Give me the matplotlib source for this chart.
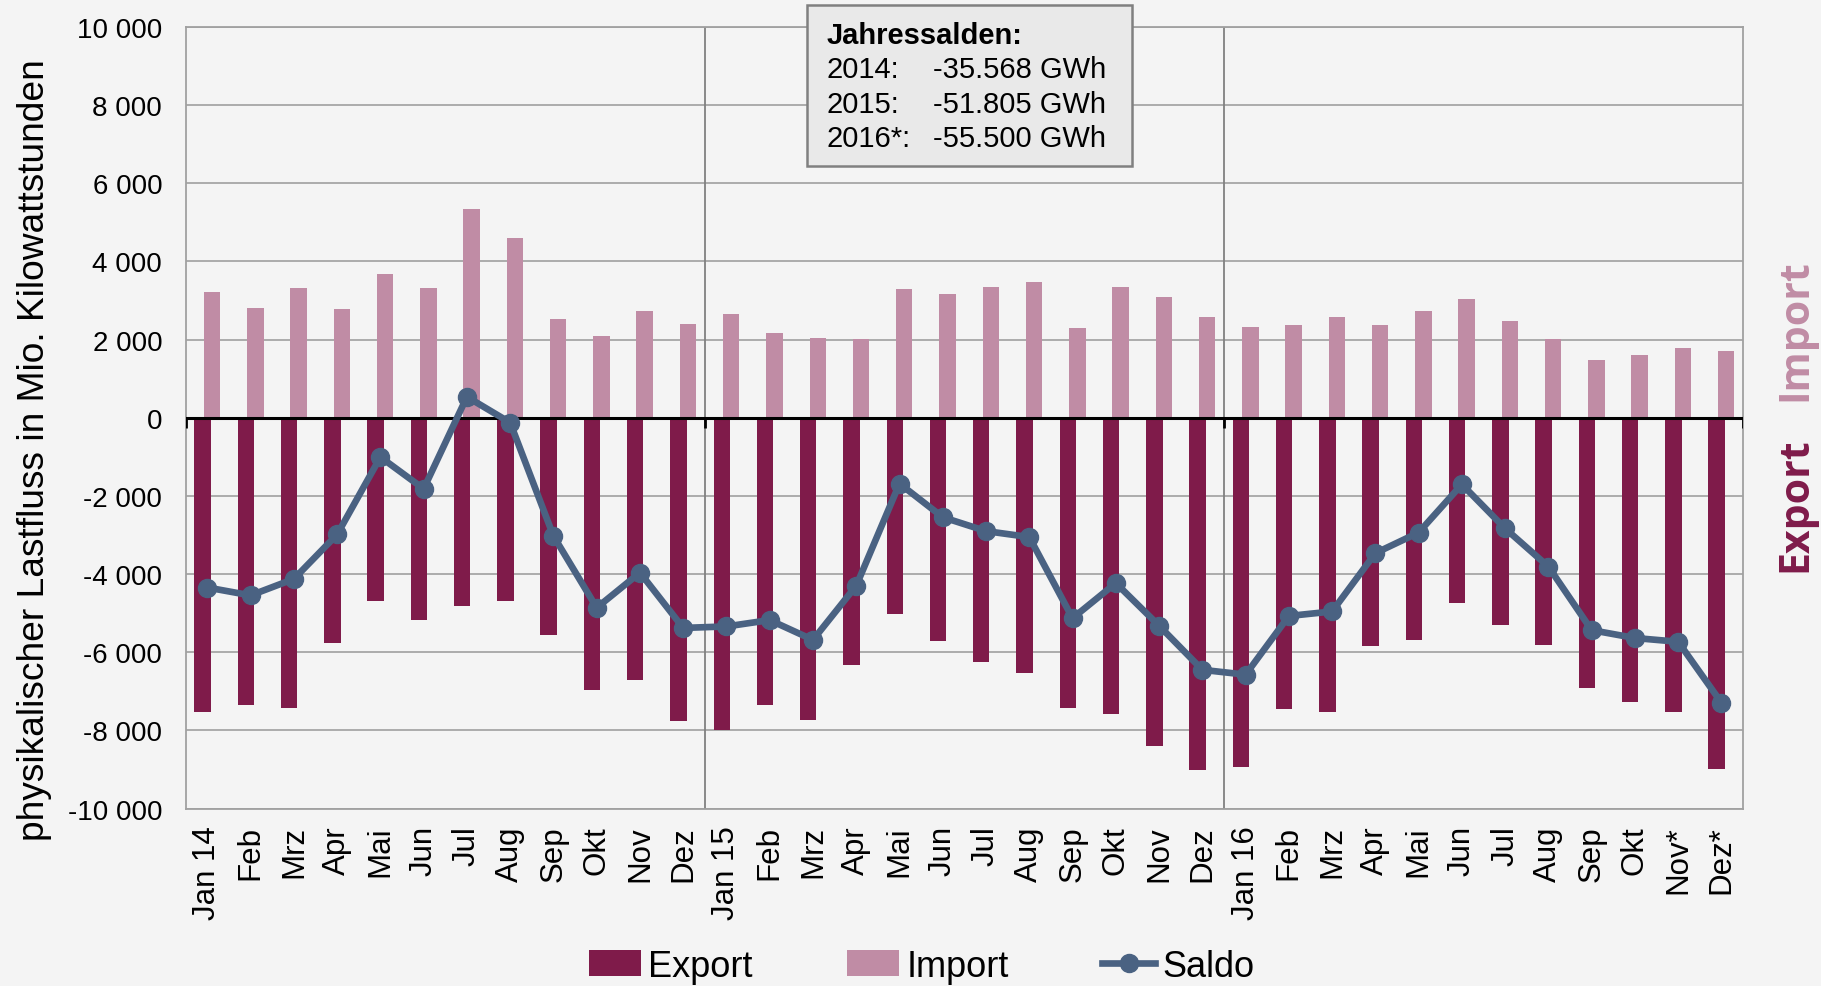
import numpy as np
import matplotlib
matplotlib.use("Agg")
import matplotlib.pyplot as plt
from matplotlib.patches import Rectangle

plt.rcParams['font.family'] = ['Liberation Sans', 'DejaVu Sans']

# Monate Jan 2014 - Dez 2016
labels = ["Jan 14", "Feb", "Mrz", "Apr", "Mai", "Jun", "Jul", "Aug", "Sep", "Okt", "Nov", "Dez",
          "Jan 15", "Feb", "Mrz", "Apr", "Mai", "Jun", "Jul", "Aug", "Sep", "Okt", "Nov", "Dez",
          "Jan 16", "Feb", "Mrz", "Apr", "Mai", "Jun", "Jul", "Aug", "Sep", "Okt", "Nov*", "Dez*"]

# Werte in Mio. kWh
importe = [3214, 2812, 3316, 2778, 3667, 3333, 5350, 4590, 2538, 2103, 2726, 2393,
           2667, 2171, 2051, 2026, 3299, 3162, 3350, 3479, 2291, 3342, 3103, 2581,
           2333, 2376, 2581, 2368, 2744, 3034, 2487, 2026, 1487, 1615, 1795, 1701]
exporte = [-7541, -7359, -7426, -5770, -4679, -5167, -4813, -4699, -5550, -6967, -6699, -7751,
           -8000, -7349, -7722, -6335, -5024, -5703, -6249, -6536, -7416, -7579, -8411, -9024,
           -8928, -7455, -7541, -5837, -5684, -4746, -5311, -5818, -6928, -7263, -7531, -8995]
saldo = [-4344, -4545, -4124, -2986, -1005, -1818, 537, -124, -3024, -4861, -3962, -5378,
         -5340, -5177, -5684, -4297, -1684, -2545, -2900, -3053, -5129, -4230, -5321, -6450,
         -6574, -5072, -4957, -3464, -2938, -1703, -2833, -3809, -5435, -5636, -5732, -7292]

jahres_label = ["2014:", "2015:", "2016*:"]
jahres_wert = ["-35.568 GWh", "-51.805 GWh", "-55.500 GWh"]

bg = '#f4f4f4'
c_export = '#7f1b4a'
c_import = '#c08ca5'
c_saldo = '#4a6282'

fig = plt.figure(figsize=(18.21, 9.87), dpi=100)
fig.patch.set_facecolor(bg)
ax = fig.add_axes([0.102, 0.1798, 0.8552, 0.7918])
ax.set_facecolor(bg)

x = np.arange(len(labels))
bw = 0.38
b_exp = ax.bar(x - 0.11, exporte, width=bw, color=c_export, zorder=3, label='Export')
b_imp = ax.bar(x + 0.11, importe, width=bw, color=c_import, zorder=3, label='Import')
l_sal, = ax.plot(x, saldo, color=c_saldo, lw=4.8, marker='o', ms=13, zorder=5, label='Saldo')

ax.set_xlim(-0.5, len(labels) - 0.5)
ax.set_ylim(-10000, 10000)
ax.set_yticks(np.arange(-10000, 10001, 2000))
ax.set_yticklabels([f"{v:,}".replace(",", " ") for v in range(-10000, 10001, 2000)], fontsize=20)
ax.set_xticks(x)
ax.set_xticklabels(labels, rotation=90, fontsize=22.5)
ax.tick_params(axis='x', length=0, pad=12)
ax.tick_params(axis='y', length=0, pad=17)
ax.grid(axis='y', color='#a6a6a6', lw=1.3, zorder=1)
for s in ax.spines.values():
    s.set_color('#a0a0a0')
    s.set_linewidth(1.3)

# Jahrestrenner
for xs in [11.5, 23.5]:
    ax.axvline(xs, color='#808080', lw=1.3, zorder=2)
ax.axhline(0, color='black', lw=2.2, zorder=4)
ax.vlines([-0.5, 11.5, 23.5, 35.5], -250, 0, color='black', lw=2, zorder=4)

ax.set_ylabel("physikalischer Lastfluss in Mio. Kilowattstunden", fontsize=26.7)
ax.yaxis.set_label_coords(-0.086, 0.46)

# Textbox Jahressalden
fig.patches.append(Rectangle((0.4432, 0.8308), 0.1785, 0.1631, transform=fig.transFigure,
                             facecolor='#e9e9e9', edgecolor='#808080', lw=1.8, zorder=10))
fig.text(0.4541, 0.9635, "Jahressalden:", fontsize=21, fontweight='bold', va='center', zorder=11)
for i, (jl, jw) in enumerate(zip(jahres_label, jahres_wert)):
    yy = 0.9291 - i * 0.0350
    fig.text(0.4541, yy, jl, fontsize=21, va='center', zorder=11)
    fig.text(0.5124, yy, jw, fontsize=21, va='center', zorder=11)

# Seitliche Beschriftung
fig.text(0.9863, 0.6657, "Import", rotation=90, color=c_import, fontsize=29.5, fontweight='bold',
         family=['Open Sans', 'DejaVu Sans'], ha='center', va='center')
fig.text(0.9863, 0.489, "Export", rotation=90, color=c_export, fontsize=29.5, fontweight='bold',
         family=['Open Sans', 'DejaVu Sans'], ha='center', va='center')

fig.legend(handles=[b_exp, b_imp, l_sal], loc='center', bbox_to_anchor=(0.506, 0.02), ncol=3,
           frameon=False, fontsize=26, handlelength=1.45, handletextpad=0.2, columnspacing=2.6)

fig.savefig("out.png", dpi=100, facecolor=bg)
